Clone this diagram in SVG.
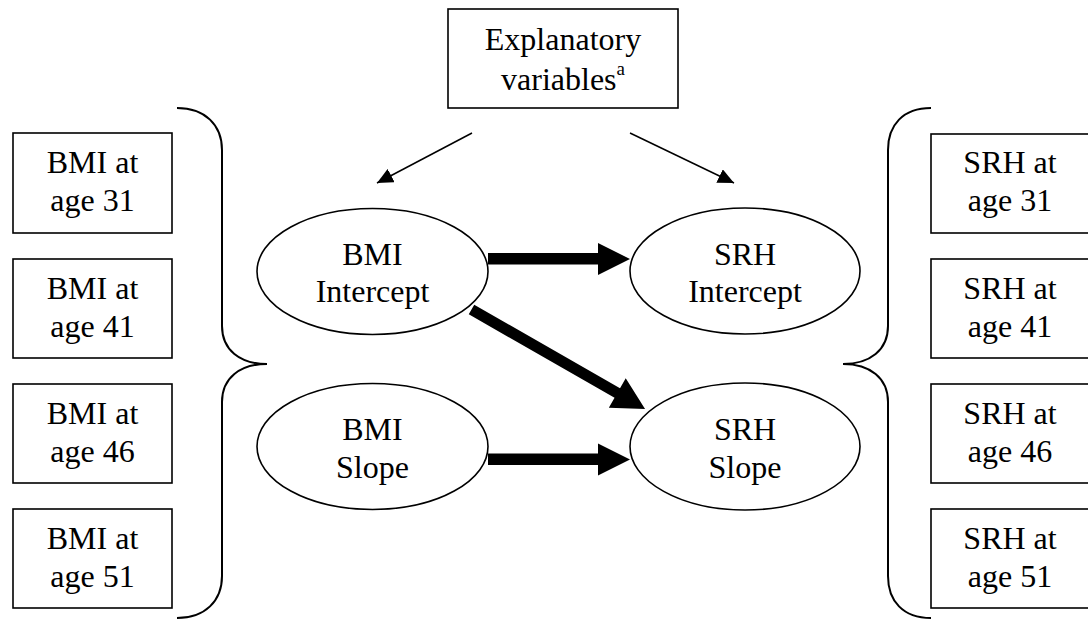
<svg xmlns="http://www.w3.org/2000/svg" width="1088" height="621" viewBox="0 0 1088 621">
  <style>
    .box { fill: #fff; stroke: #000; stroke-width: 1.6; }
    .oval { fill: #fff; stroke: #000; stroke-width: 1.6; }
    .brace { fill: none; stroke: #000; stroke-width: 2; }
    .thin { fill: none; stroke: #000; stroke-width: 1.5; }
    .thick { fill: #000; stroke: none; }
    text { font-family: "Liberation Serif", "DejaVu Serif", serif; font-size: 32px; fill: #000; text-anchor: middle; }
  </style>
  <defs>
    <marker id="head" markerWidth="16" markerHeight="15" refX="16" refY="7.5" orient="auto" markerUnits="userSpaceOnUse">
      <path d="M0,0 L16,7.5 L0,15 Z" fill="#000"/>
    </marker>
  </defs>
  <rect width="1088" height="621" fill="#fff"/>

  <g id="explanatory">
    <rect class="box" x="448" y="9" width="230" height="99"/>
    <text x="563" y="50" font-family="Liberation Serif, serif">Explanatory</text>
    <text x="563" y="90" font-family="Liberation Serif, serif">variables<tspan dy="-15" font-size="19">a</tspan></text>
  </g>

  <g id="bmi-31"><rect class="box" x="13" y="133" width="159" height="100"/><text x="92.5" y="173">BMI at</text><text x="92.5" y="211">age 31</text></g>
  <g id="bmi-41"><rect class="box" x="13" y="259" width="159" height="99"/><text x="92.5" y="299">BMI at</text><text x="92.5" y="337">age 41</text></g>
  <g id="bmi-46"><rect class="box" x="13" y="384" width="159" height="99"/><text x="92.5" y="424">BMI at</text><text x="92.5" y="462">age 46</text></g>
  <g id="bmi-51"><rect class="box" x="13" y="509" width="159" height="99"/><text x="92.5" y="549">BMI at</text><text x="92.5" y="587">age 51</text></g>

  <g id="srh-31"><rect class="box" x="931" y="134" width="160" height="99"/><text x="1010" y="173">SRH at</text><text x="1010" y="211">age 31</text></g>
  <g id="srh-41"><rect class="box" x="931" y="259" width="160" height="99"/><text x="1010" y="299">SRH at</text><text x="1010" y="337">age 41</text></g>
  <g id="srh-46"><rect class="box" x="931" y="384" width="160" height="99"/><text x="1010" y="424">SRH at</text><text x="1010" y="462">age 46</text></g>
  <g id="srh-51"><rect class="box" x="931" y="509" width="160" height="99"/><text x="1010" y="549">SRH at</text><text x="1010" y="587">age 51</text></g>

  <g id="bmi-intercept"><ellipse class="oval" cx="372.5" cy="271.5" rx="115.5" ry="63"/><text x="372.5" y="265">BMI</text><text x="372.5" y="302">Intercept</text></g>
  <g id="bmi-slope"><ellipse class="oval" cx="372.5" cy="446.5" rx="115.5" ry="63"/><text x="372.5" y="440">BMI</text><text x="372.5" y="478">Slope</text></g>
  <g id="srh-intercept"><ellipse class="oval" cx="745" cy="271" rx="115" ry="63"/><text x="745" y="265">SRH</text><text x="745" y="302">Intercept</text></g>
  <g id="srh-slope"><ellipse class="oval" cx="745" cy="446.5" rx="115" ry="63.5"/><text x="745" y="440">SRH</text><text x="745" y="478">Slope</text></g>

  <g id="braces">
    <path class="brace" d="M177,108 C205,108 222,125 222,150 L222,326 C222,350 240,364 267,364 C240,364 222,378 222,402 L222,576 C222,601 205,618 177,618"/>
    <path class="brace" d="M931,108 C903,108 888,125 888,150 L888,326 C888,350 870,364 843,364 C870,364 888,378 888,402 L888,576 C888,601 903,618 931,618"/>
  </g>

  <g id="connectors">
    <line class="thin" x1="472" y1="133" x2="377" y2="183" marker-end="url(#head)"/>
    <line class="thin" x1="630" y1="133" x2="734" y2="183" marker-end="url(#head)"/>
    <polygon class="thick" points="488,253 598,253 598,243 630,259 598,275 598,264.5 488,264.5"/>
    <polygon class="thick" points="488,453.5 598,453.5 598,443.5 630,459.5 598,475.5 598,465 488,465"/>
    <g transform="translate(471.5,309.5) rotate(29.8)">
      <polygon class="thick" points="0,-5.5 168,-5.5 168,-17 200,0 168,17 168,5.5 0,5.5"/>
    </g>
  </g>
</svg>
